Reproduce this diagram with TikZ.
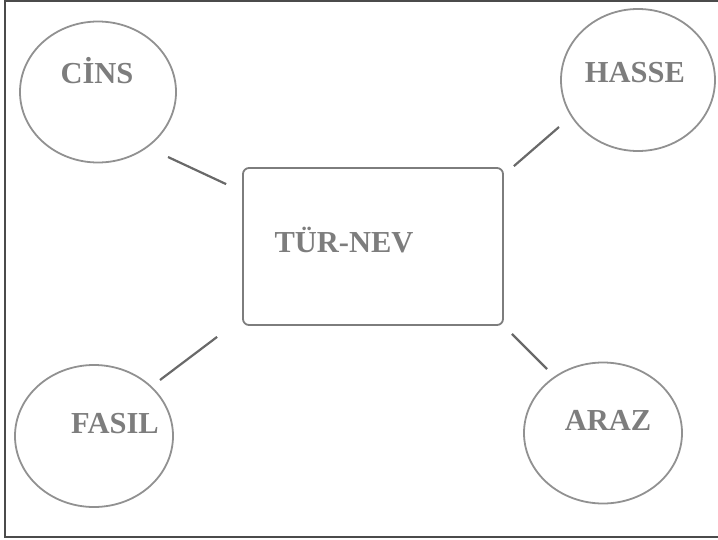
\documentclass[tikz,border=0pt]{standalone}
\usepackage{fontspec}
\setmainfont{Liberation Serif}
\usetikzlibrary{shapes.geometric}
\definecolor{txtgray}{RGB}{125,125,125}
\definecolor{ellgray}{RGB}{145,145,145}
\definecolor{boxgray}{RGB}{125,125,125}
\definecolor{linegray}{RGB}{105,105,105}
\definecolor{framegray}{RGB}{75,75,75}
\tikzset{
  ell/.style={ellipse, draw=ellgray, line width=1.8pt, inner sep=0pt},
  lbl/.style={anchor=base, inner sep=0pt, text=txtgray, font=\fontsize{30.5}{30.5}\selectfont\bfseries},
  conn/.style={draw=linegray, line width=2.2pt},
  frame/.style={draw=framegray, line width=1.3pt},
}
\begin{document}
\begin{tikzpicture}[x=1pt,y=-1pt]
\useasboundingbox (0,0) rectangle (718,539);
\draw[frame] (722,1) -- (5,1) -- (5,537) -- (722,537);

\node[ell, minimum width=156pt, minimum height=141pt] (cins) at (98,92) {};
\node[ell, minimum width=154pt, minimum height=142pt] (hasse) at (638,80) {};
\node[ell, minimum width=158pt, minimum height=142pt] (fasil) at (94,436) {};
\node[ell, minimum width=158pt, minimum height=141pt] (araz) at (603,433) {};
\node[draw=boxgray, line width=1.8pt, rounded corners=6pt, minimum width=260pt, minimum height=157pt, inner sep=0pt] (box) at (373,246.5) {};

\node[lbl] (tcins) at (97,83) {CİNS};
\node[lbl] (thasse) at (635,82) {HASSE};
\node[lbl] (tbox) at (344,252) {TÜR-NEV};
\node[lbl] (tfasil) at (115,433) {FASIL};
\node[lbl] (taraz) at (608,430) {ARAZ};

\draw[conn] ([shift={(70,65)}]cins.center) -- ([shift={(-16,17)}]box.north west);
\draw[conn] ([shift={(-79,47)}]hasse.center) -- ([shift={(10,-1)}]box.north east);
\draw[conn] ([shift={(66,-56)}]fasil.center) -- ([shift={(-25,11)}]box.south west);
\draw[conn] ([shift={(-56,-64)}]araz.center) -- ([shift={(8,8)}]box.south east);
\end{tikzpicture}
\end{document}
